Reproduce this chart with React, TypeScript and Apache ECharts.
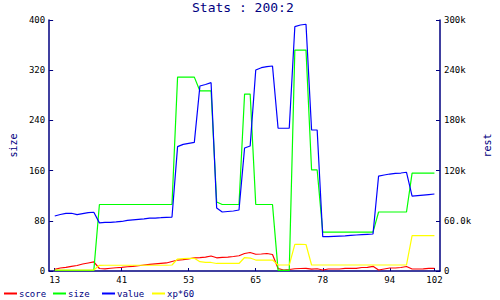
import React, { useEffect, useRef } from "react";
import * as echarts from "echarts";

// x tick labels and the sample index where each one sits
const tickLabels = ["13", "41", "53", "65", "78", "94", "102"];
const tickIndex = [0, 12, 24, 36, 48, 60, 68];

// 69 samples per series
const score = [
  2000, 3600, 4400, 5600, 6600, 8400, 9600, 10800,
  3000, 2600, 3300, 3900, 4400, 5100, 5600, 6300, 7200, 8000, 8600, 9200, 9600, 11400, 13100, 13700, 14600,
  15800, 16100, 16500, 17900, 15800, 16400, 16700, 17300, 18200, 20900, 22100, 20000, 20300, 20900, 19700,
  3000, 1200, 1800, 2700, 3000, 3200, 2200, 2700,
  1200, 2400, 2400, 2400, 3200, 3200, 3200, 4200, 4400, 5600,
  1200, 2400, 3600, 3600, 4200, 5400, 2400, 2400, 2600, 3200, 3200,
];

const size = [
  1, 1, 1, 1, 1, 1, 1, 1,
  106, 106, 106, 106, 106, 106, 106, 106, 106, 106, 106, 106, 106, 106,
  309, 309, 309, 309,
  287, 287, 287,
  110,
  106, 106, 106, 106,
  282, 282,
  106, 106, 106, 106,
  1, 1, 1,
  352, 352, 352,
  161, 161,
  62, 62, 62, 62, 62, 62, 62, 62, 62, 62,
  94, 94, 94, 94, 94, 94,
  156, 156, 156, 156, 156,
];

const value = [
  65700, 67500, 68800, 69000, 67300, 68500, 69700, 70200,
  57500, 58000, 58200, 58600, 59200, 60400, 61000, 61600, 62200, 63300, 63300, 63700, 64200,
  64500,
  148600, 151400, 152600, 153800,
  221100, 222900, 225100,
  75300,
  70500, 71100, 71700, 72900,
  147000, 149400,
  240200, 243000, 244200, 245000,
  170600, 170600, 170600,
  292000, 294000, 294900,
  168500, 168500,
  41000, 41000, 41400, 41700, 42000, 42500, 43000, 43400, 43800, 44200,
  113500, 114700, 115900, 116700, 117100, 118000,
  89600, 90200, 90800, 91400, 92000,
];

const xp60 = [
  1200, 1200, 1200, 1200, 1200, 1200, 1200, 1200,
  6800, 6900, 6900, 6900, 6900, 6900, 6900, 6900, 6900, 6900, 6900, 6900, 6900, 7200,
  14300, 14900, 15200, 15200,
  11100, 10400, 10200,
  9000, 9000, 9000, 9000, 9000,
  16100, 15500,
  13100, 13100, 13100, 13100,
  7200, 7200, 7200,
  31900, 31900, 31700,
  7200, 7200, 7200, 7200, 7200, 7200, 7200, 7200, 7200, 7200, 7200, 7200, 7200, 7200, 7200, 7200, 7200, 7200,
  42400, 42400, 42400, 42400, 42400,
];

const seriesNames = ["score", "size", "value", "xp*60"];
const seriesColors = ["#ff0000", "#00ff00", "#0000ff", "#ffff00"];
const legendLeft = [4, 53, 102, 152];

const NAVY = "#000080";
const MONO = "DejaVu Sans Mono";

export default function App() {
  const ref = useRef<HTMLDivElement>(null);

  useEffect(() => {
    document.body.style.margin = "0";
    if (!ref.current) return;
    const chart = echarts.init(ref.current, undefined, { renderer: "svg" });

    const n = score.length;
    // pad one empty category at each end
    const cats: string[] = new Array(n + 2).fill("");
    tickIndex.forEach((idx, i) => {
      cats[idx + 1] = tickLabels[i];
    });
    const pad = (arr: number[]) => [null, ...arr, null];
    const showTick = (index: number, v: string) => v !== "";

    const fmtRest = (v: number) => {
      if (v === 0) return "0";
      const k = v / 1000;
      return k >= 100 ? k.toFixed(0) + "k" : k.toFixed(1) + "k";
    };

    const allData = [score, size, value, xp60];

    chart.setOption({
      animation: false,
      backgroundColor: "#ffffff",
      title: {
        text: "Stats : 200:2",
        left: 192,
        top: 1,
        padding: 0,
        textStyle: {
          color: NAVY,
          fontFamily: MONO,
          fontSize: 13,
          fontWeight: "normal",
        },
      },
      legend: seriesNames.map((name, i) => ({
        data: [name],
        left: legendLeft[i],
        top: 289,
        padding: 0,
        icon: "rect",
        itemWidth: 13,
        itemHeight: 2,
        itemGap: 0,
        textStyle: { color: NAVY, fontFamily: MONO, fontSize: 9, padding: [0, 0, 0, -3] },
      })),
      grid: { left: 36, right: 47, top: 20, bottom: 29, containLabel: false },
      xAxis: {
        type: "category",
        data: cats,
        boundaryGap: false,
        axisLine: { show: true, lineStyle: { color: NAVY, width: 1.5 } },
        axisTick: { show: true, inside: true, length: 3, interval: showTick, lineStyle: { color: NAVY } },
        axisLabel: {
          interval: showTick,
          color: "#000",
          fontFamily: MONO,
          fontSize: 9,
          margin: 4,
        },
        splitLine: { show: false },
      },
      yAxis: [
        {
          type: "value",
          min: 0,
          max: 400,
          interval: 80,
          position: "left",
          name: "size",
          nameLocation: "middle",
          nameRotate: 90,
          nameGap: 23,
          nameTextStyle: { color: NAVY, fontFamily: MONO, fontSize: 10 },
          axisLine: { show: true, lineStyle: { color: NAVY, width: 1.5 } },
          axisTick: { show: true, inside: true, length: 4, lineStyle: { color: NAVY } },
          axisLabel: { color: "#000", fontFamily: MONO, fontSize: 9, margin: 4 },
          splitLine: { show: false },
        },
        {
          type: "value",
          min: 0,
          max: 300000,
          interval: 60000,
          position: "right",
          name: "rest",
          nameLocation: "middle",
          nameRotate: 90,
          nameGap: 37,
          nameTextStyle: { color: NAVY, fontFamily: MONO, fontSize: 10 },
          axisLine: { show: true, lineStyle: { color: NAVY, width: 1.5 } },
          axisTick: { show: true, inside: true, length: 4, lineStyle: { color: NAVY } },
          axisLabel: { color: "#000", fontFamily: MONO, fontSize: 9, margin: 4, formatter: fmtRest },
          splitLine: { show: false },
        },
      ],
      series: seriesNames.map((name, i) => ({
        name,
        type: "line",
        yAxisIndex: name === "size" ? 0 : 1,
        data: pad(allData[i]),
        symbol: "none",
        showSymbol: false,
        color: seriesColors[i],
        lineStyle: { color: seriesColors[i], width: 1.2 },
        emphasis: { disabled: true },
      })),
    });

    return () => chart.dispose();
  }, []);

  return <div ref={ref} style={{ width: 500, height: 300 }} />;
}
